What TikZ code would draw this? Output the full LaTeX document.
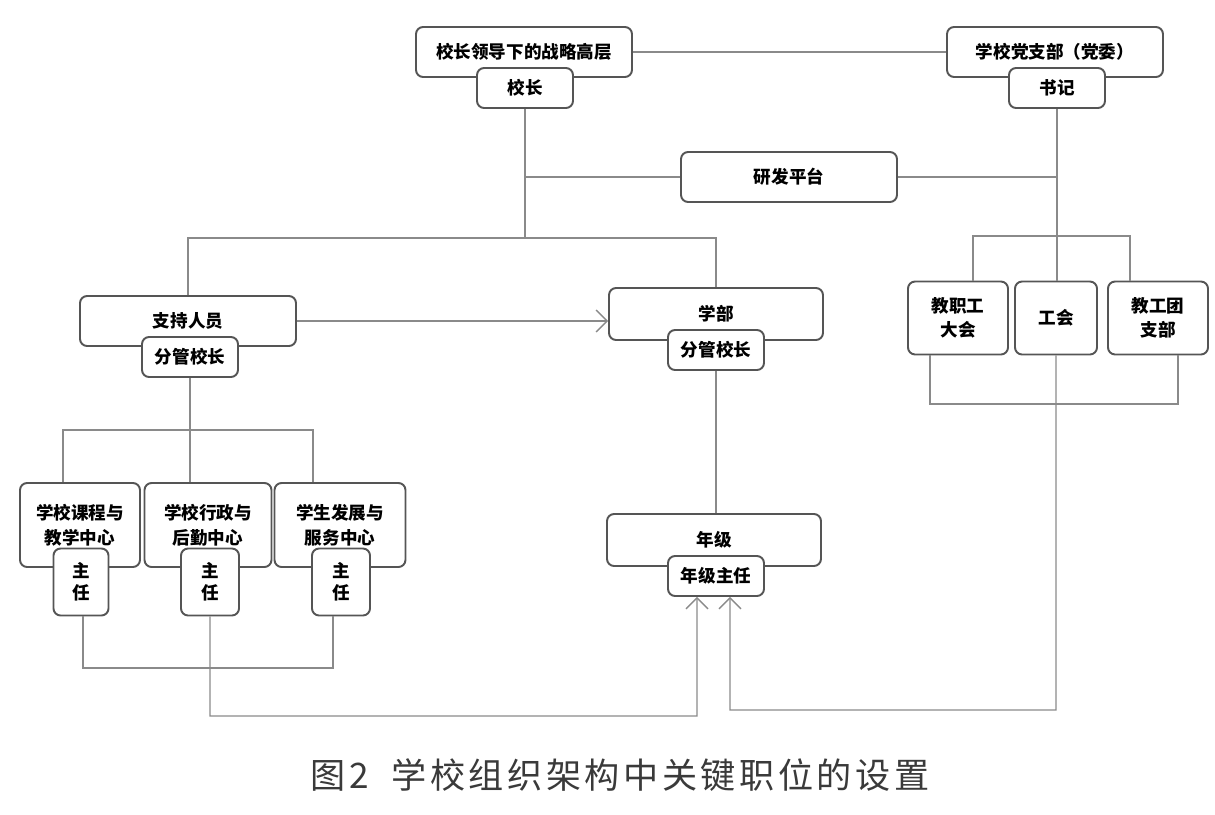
\documentclass[tikz,border=0pt]{standalone}
\usepackage{fontspec}
\newfontfamily\cjk{Noto Sans CJK SC}
\newfontfamily\capfont[LetterSpace=10]{Noto Sans CJK SC}
\usetikzlibrary{arrows.meta,positioning}
\definecolor{framegray}{HTML}{555555}
\definecolor{linegray}{HTML}{8A8A8A}
\definecolor{capgray}{HTML}{3A3A3A}
\tikzset{
  box/.style={draw=framegray, fill=white, line width=1.1pt, rounded corners=4pt, align=center, inner sep=0pt, font=\cjk\bfseries\fontsize{10}{14}\selectfont},
  unitbox/.style={box, minimum width=4.32cm, minimum height=1cm},
  headbox/.style={box, minimum width=1.92cm, minimum height=0.8cm},
  ln/.style={linegray, line width=0.8pt},
  arr/.style={ln, -{Straight Barb[length=2.2mm]}},
}

\begin{document}
\begin{tikzpicture}[x=0.02cm, y=-0.02cm]
        \useasboundingbox (0,0) rectangle (1215,815);
        % top level
        \node[unitbox] (top) at (524,52) {校长领导下的战略高层};
        \node[unitbox] (party) at (1055,52) {学校党支部（党委）};
        \node[headbox] (head) at (525,88) {校长};
        \node[headbox] (sec) at (1057,88) {书记};
        \node[unitbox] (rd) at (789,177) {研发平台};
        % second level
        \node[unitbox] (support) at (188,321) {支持人员};
        \node[headbox] (suphead) at (190,357) {分管校长};
        \node[unitbox, minimum width=4.28cm, minimum height=1.04cm] (dept) at (716,314) {学部};
        \node[headbox] (depthead) at (716,350) {分管校长};
        \node[unitbox, minimum width=4.28cm, minimum height=1.04cm] (grade) at (714,540) {年级};
        \node[headbox] (gradehead) at (716,576) {年级主任};
        % right group
        \node[box, minimum width=2cm, minimum height=1.46cm] (staff) at (958,318) {教职工\\大会};
        \node[box, minimum width=1.64cm, minimum height=1.46cm] (union) at (1056,318) {工会};
        \node[box, minimum width=2cm, minimum height=1.46cm] (league) at (1158,318) {教工团\\支部};
        % centres
        \node[box, minimum width=2.4cm, minimum height=1.68cm] (c1) at (80,525) {学校课程与\\教学中心};
        \node[box, minimum width=2.54cm, minimum height=1.68cm] (c2) at (208,525) {学校行政与\\后勤中心};
        \node[box, minimum width=2.62cm, minimum height=1.68cm] (c3) at (340,525) {学生发展与\\服务中心};
        \node[box, minimum width=1.1cm, minimum height=1.34cm, font=\cjk\bfseries\fontsize{10}{12.5}\selectfont] (m1) at (81,582) {主\\任};
        \node[box, minimum width=1.16cm, minimum height=1.34cm, font=\cjk\bfseries\fontsize{10}{12.5}\selectfont] (m2) at (210,582) {主\\任};
        \node[box, minimum width=1.16cm, minimum height=1.34cm, font=\cjk\bfseries\fontsize{10}{12.5}\selectfont] (m3) at (341,582) {主\\任};
        % junctions
        \coordinate (jA) at (525,238);
        \coordinate (jB) at (1057,236);
        \coordinate (jC) at (1055,404);
        \coordinate (jD) at (730,710);
        \coordinate (jE) at (190,430);
        \coordinate (jF) at (210,668);
        \coordinate (jG) at (697,716);
        % connectors
        \draw[ln] (top.east) -- (party.west);
        \draw[ln] (head.south) -- (jA);
        \draw[ln] (rd.west) -- (rd.west -| head.south);
        \draw[ln] (rd.east) -- (rd.east -| sec.south);
        \draw[ln] (support.north) |- (jA) -| (dept.north);
        \draw[arr] (support.east) -- (support.east -| dept.west);
        \draw[ln] (depthead.south) -- (depthead.south |- grade.north);
        \draw[ln] (sec.south) -- (jB);
        \draw[ln] ([xshift=0.3cm]staff.north) |- (jB) -| ([xshift=-0.56cm]league.north);
        \draw[ln] (jB) -- (jB |- union.north);
        \draw[ln] ([xshift=-0.56cm]staff.south) |- (jC) -| ([xshift=0.4cm]league.south);
        \draw[arr] (union.south) |- (jD) -- ([xshift=0.28cm]gradehead.south);
        \draw[ln] (suphead.south) -- (jE);
        \draw[ln] ([xshift=-0.34cm]c1.north) |- (jE) -| ([xshift=-0.54cm]c3.north);
        \draw[ln] (jE) -- (jE |- c2.north);
        \draw[ln] ([xshift=0.04cm]m1.south) |- (jF) -| ([xshift=-0.16cm]m3.south);
        \draw[arr] (m2.south) |- (jG) -- ([xshift=-0.38cm]gradehead.south);
        % caption
        \node[font=\capfont\fontsize{20}{24}\selectfont, text=capgray] (caption) at (620,775) {图2\ \ 学校组织架构中关键职位的设置};
      \end{tikzpicture}
\end{document}
